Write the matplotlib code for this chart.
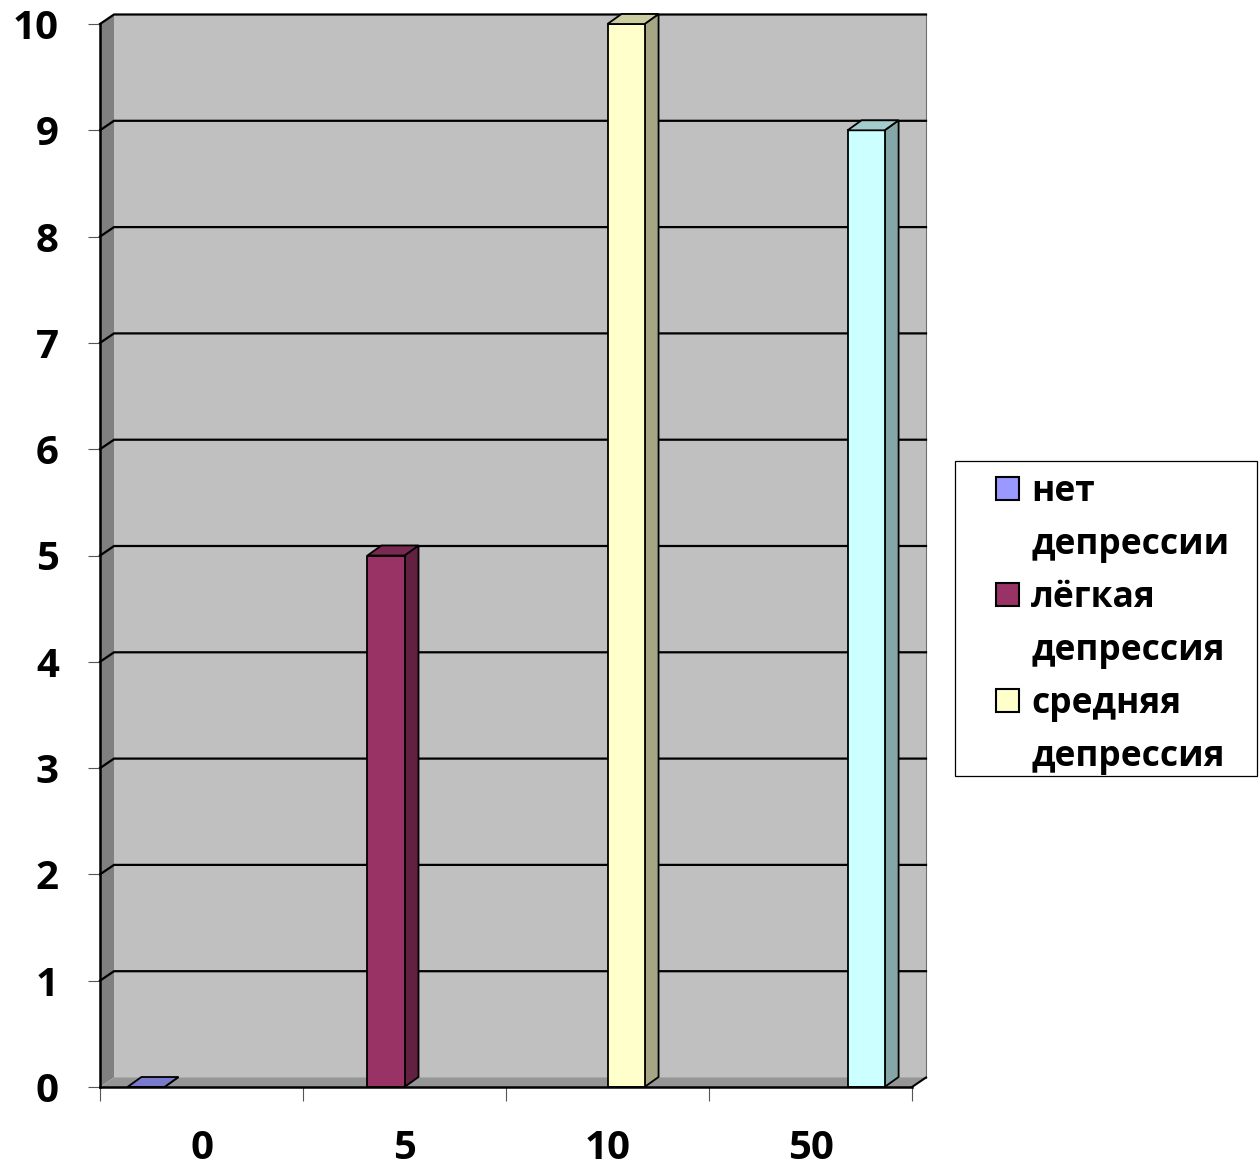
import numpy as np
import matplotlib
matplotlib.use("Agg")
import matplotlib.pyplot as plt
from matplotlib.patches import Polygon, Patch, Rectangle
from matplotlib.colors import to_rgb

categories = ["0", "5", "10", "50"]
series_names = ["нет депрессии", "лёгкая депрессия", "средняя депрессия", "тяжёлая депрессия"]
# only the first three series fit in the legend of the original
legend_rows = [["нет", "депрессии"], ["лёгкая", "депрессия"], ["средняя", "депрессия"]]
nan = np.nan
series_values = [
    [0, nan, nan, nan],
    [nan, 5, nan, nan],
    [nan, nan, 10, nan],
    [nan, nan, nan, 9],
]
series_colors = ["#9999FF", "#993366", "#FFFFCC", "#CCFFFF"]
y_ticks = list(range(0, 11))

plt.rcParams['font.family'] = ['Open Sans', 'DejaVu Sans']
plt.rcParams['font.weight'] = 'bold'

W, H = 1259, 1168
fig = plt.figure(figsize=(W / 100, H / 100), dpi=100)
ax = fig.add_axes([100 / W, 1 - 1087 / H, 812 / W, 1063 / H])
ax.set_xlim(0, len(categories))
ax.set_ylim(0, 10)
ax.set_facecolor('none')

# 3d depth, pixels -> data units
inv = ax.transData.inverted()
p0 = ax.transData.transform((0, 0))
dx, dy = inv.transform(p0 + np.array([14, 9.5]))
bdx, bdy = inv.transform(p0 + np.array([14, 10]))
xmax = len(categories)

def shade(c, f):
    return tuple(np.array(to_rgb(c)) * f)

# walls
ax.add_patch(Polygon([(dx, dy), (xmax + dx, dy), (xmax + dx, 10 + dy), (dx, 10 + dy)],
                     closed=True, fc='#C0C0C0', ec='none', clip_on=False, zorder=0))
ax.add_patch(Polygon([(0, 0), (dx, dy), (dx, 10 + dy), (0, 10)],
                     closed=True, fc='#808080', ec='none', clip_on=False, zorder=0))
ax.add_patch(Polygon([(0, 0), (xmax, 0), (xmax + dx, dy), (dx, dy)],
                     closed=True, fc='#969696', ec='none', clip_on=False, zorder=0))
ax.plot([xmax + dx, xmax + dx], [dy, 10 + dy], color='#707070', lw=0.8, clip_on=False, zorder=1)
ax.plot([xmax, xmax + dx], [0, dy], color='black', lw=1.5, clip_on=False, zorder=1)

# gridlines on back wall
for t in y_ticks[1:]:
    ax.plot([0, dx, xmax + dx], [t, t + dy, t + dy], color='black', lw=1.6,
            clip_on=False, zorder=1, solid_joinstyle='miter')

# bars, clustered
n = len(series_values)
w = 0.1825
for i, (vals, col) in enumerate(zip(series_values, series_colors)):
    xs = np.arange(len(categories)) + 0.5 + (i - (n - 1) / 2) * w
    keep = ~np.isnan(vals)
    bars = ax.bar(xs[keep], np.array(vals)[keep], width=w, color=col,
                  edgecolor='black', linewidth=1.3, zorder=5, clip_on=False)
    for b in bars:
        x0, bw, h = b.get_x(), b.get_width(), b.get_height()
        x1 = x0 + bw
        ax.add_patch(Polygon([(x1, 0), (x1 + bdx, bdy), (x1 + bdx, h + bdy), (x1, h)],
                             closed=True, fc=shade(col, 0.65), ec='black', lw=1.3,
                             clip_on=False, zorder=4))
        ax.add_patch(Polygon([(x0, h), (x1, h), (x1 + bdx, h + bdy), (x0 + bdx, h + bdy)],
                             closed=True, fc=shade(col, 0.8), ec='black', lw=1.3,
                             clip_on=False, zorder=6))

for s in ['top', 'right']:
    ax.spines[s].set_visible(False)
for s in ['left', 'bottom']:
    ax.spines[s].set_color('black')
    ax.spines[s].set_linewidth(1.8)
    ax.spines[s].set_zorder(7)

ax.set_yticks(y_ticks)
ax.set_yticklabels([str(t) for t in y_ticks])
ax.tick_params(axis='y', length=8.6, width=0.8, color='#555555', pad=21, labelsize=29)
ax.set_xticks(range(len(categories) + 1))
ax.set_xticklabels([])
ax.set_xticks(np.arange(len(categories)) + 0.5, minor=True)
ax.set_xticklabels(categories, minor=True)
ax.tick_params(axis='x', which='major', length=10, width=0.8, color='#555555')
ax.tick_params(axis='x', which='minor', length=0, pad=30, labelsize=29)

# legend: one row per text line, marker on the first line
handles, labels = [], []
for col, rows in zip(series_colors, legend_rows):
    handles.append(Patch(fc=col, ec='black', lw=1.5))
    labels.append(rows[0])
    handles.append(Patch(fc='none', ec='none'))
    labels.append(rows[1])
fig.legend(handles, labels, loc='upper left', bbox_to_anchor=(996 / W, 1 - 474 / H),
           frameon=False, fontsize=25.5, handlelength=0.64, handleheight=0.64,
           handletextpad=0.36, labelspacing=0.48, borderpad=0, borderaxespad=0)
fig.patches.append(Rectangle((955 / W, 1 - 776 / H), 302 / W, 315 / H,
                             transform=fig.transFigure, fill=False, ec='black', lw=0.9))

fig.savefig('out.png', dpi=100)
